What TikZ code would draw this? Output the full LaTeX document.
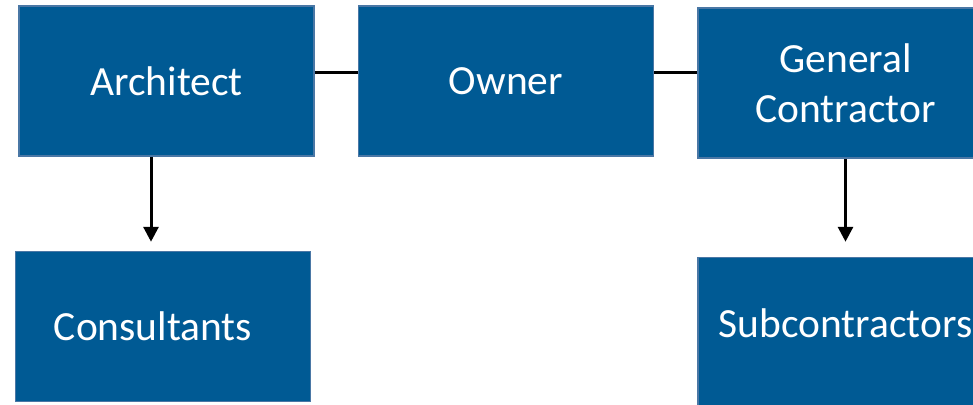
\documentclass[tikz,border=0pt]{standalone}
\usepackage{fontspec}
\setmainfont{Carlito}
\usepackage{tikz}
\usetikzlibrary{arrows.meta, positioning}

\definecolor{boxblue}{RGB}{0,90,148}
\definecolor{boxline}{RGB}{74,119,165}

\begin{document}
\begin{tikzpicture}[x=1pt, y=-1pt, >={Triangle[length=15pt,width=15pt]},
line width = 3pt,
box/.style={rectangle, draw=boxline, fill=boxblue, line width=1.5pt,
  minimum width=295pt, minimum height=150pt, inner sep=0pt,
  text=white, align=center, font=\fontsize{41.5}{50}\selectfont}]

\useasboundingbox (0,0) rectangle (973,404);

\node [box] (arch) at (166.5,81) {Architect};
\node [box] (owner) [right=43pt of arch] {Owner};
\node [box] (gc) [right=43pt of owner, yshift=-2pt] {General\\Contractor};

\node [box] (cons) [below=94pt of arch, xshift=-3.5pt] {Consultants\hspace*{20pt}};
\node [box, text depth=18pt] (sub) [below=98pt of gc] {Subcontractors};

\draw ([yshift=9pt]arch.east) -- ([yshift=9pt]owner.west);
\draw ([yshift=9pt]owner.east) -- ([yshift=11pt]gc.west);

\draw [->, shorten >=9pt] ([xshift=-15.5pt]arch.south) -- ([xshift=-15.5pt]arch.south |- cons.north);
\draw [->, shorten >=15pt] (gc.south) -- (gc.south |- sub.north);
\end{tikzpicture}
\end{document}
